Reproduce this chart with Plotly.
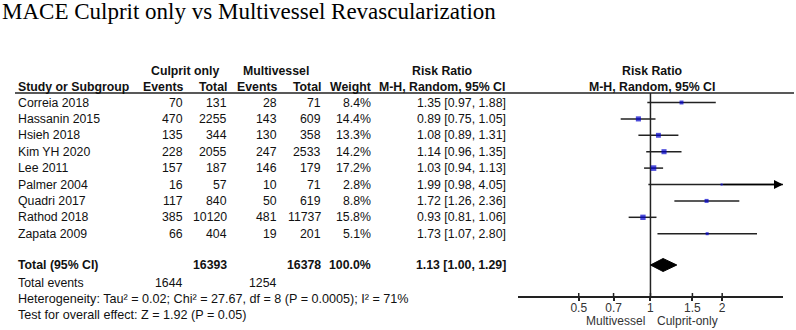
import math
import plotly.graph_objects as go

# ---------------- data ----------------
studies = ["Correia 2018", "Hassanin 2015", "Hsieh 2018", "Kim YH 2020", "Lee 2011",
           "Palmer 2004", "Quadri 2017", "Rathod 2018", "Zapata 2009"]
cul_events = [70, 470, 135, 228, 157, 16, 117, 385, 66]
cul_total = [131, 2255, 344, 2055, 187, 57, 840, 10120, 404]
mv_events = [28, 143, 130, 247, 146, 10, 50, 481, 19]
mv_total = [71, 609, 358, 2533, 179, 71, 619, 11737, 201]
weights = [8.4, 14.4, 13.3, 14.2, 17.2, 2.8, 8.8, 15.8, 5.1]
rr = [1.35, 0.89, 1.08, 1.14, 1.03, 1.99, 1.72, 0.93, 1.73]
rr_lo = [0.97, 0.75, 0.89, 0.96, 0.94, 0.98, 1.26, 0.81, 1.07]
rr_hi = [1.88, 1.05, 1.31, 1.35, 1.13, 4.05, 2.36, 1.06, 2.80]

total_cul = 16393
total_mv = 16378
total_weight = "100.0%"
events_cul = 1644
events_mv = 1254
pooled = [1.13, 1.00, 1.29]  # estimate, lower, upper

heterogeneity = "Heterogeneity: Tau² = 0.02; Chi² = 27.67, df = 8 (P = 0.0005); I² = 71%"
overall = "Test for overall effect: Z = 1.92 (P = 0.05)"
title = "MACE Culprit only vs Multivessel Revascularization"

tick_vals = [0.5, 0.7, 1, 1.5, 2]
tick_text = ["0.5", "0.7", "1", "1.5", "2"]
x_min, x_max = 0.278, 3.6
favours = ["Multivessel", "Culprit-only"]

# ---------------- layout helpers ----------------
W, H = 796, 330
FONT = "Liberation Sans, Arial, sans-serif"
FS = 12.3
TXT = "#111111"
LINE = "#222222"

row0, step = 102.5, 16.4
row_y = [row0 + i * step for i in range(len(studies))]
y_total = 265
y_events = 283
y_het = 299
y_test = 315
y_h1, y_h2 = 71, 87
y_rule = 93
y_axis = 297

def px(x):
    return x / W

annotations = []

def txt(x, y, s, anchor="left", bold=False, size=FS, family=FONT, color=TXT):
    if bold:
        s = "<b>" + s + "</b>"
    annotations.append(dict(x=px(x), y=y, xref="paper", yref="y", text=s,
                            showarrow=False, xanchor=anchor, yanchor="middle",
                            font=dict(family=family, size=size, color=color)))

# column right edges
c_name = 16
c_ev1, c_tot1, c_ev2, c_tot2, c_w, c_rr = 185, 229, 279, 323, 373, 508

# title
annotations.append(dict(x=0, y=11, xref="paper", yref="y", text=title, showarrow=False,
                        xanchor="left", yanchor="middle",
                        font=dict(family="Liberation Serif, Times New Roman, serif", size=23, color="#000")))

# headers
txt(185, y_h1, "Culprit only", "center", True)
txt(276, y_h1, "Multivessel", "center", True)
txt(442, y_h1, "Risk Ratio", "center", True)
txt(652, y_h1, "Risk Ratio", "center", True)
txt(c_name, y_h2, "Study or Subgroup", "left", True)
txt(c_ev1, y_h2, "Events", "right", True)
txt(c_tot1, y_h2, "Total", "right", True)
txt(c_ev2, y_h2, "Events", "right", True)
txt(c_tot2, y_h2, "Total", "right", True)
txt(c_w, y_h2, "Weight", "right", True)
txt(442, y_h2, "M-H, Random, 95% CI", "center", True)
txt(652, y_h2, "M-H, Random, 95% CI", "center", True)

for i, s in enumerate(studies):
    y = row_y[i]
    txt(c_name, y, s)
    txt(c_ev1, y, str(cul_events[i]), "right")
    txt(c_tot1, y, str(cul_total[i]), "right")
    txt(c_ev2, y, str(mv_events[i]), "right")
    txt(c_tot2, y, str(mv_total[i]), "right")
    txt(c_w, y, f"{weights[i]:.1f}%", "right")
    txt(c_rr, y, f"{rr[i]:.2f} [{rr_lo[i]:.2f}, {rr_hi[i]:.2f}]", "right")

txt(c_name, y_total, "Total (95% CI)", "left", True)
txt(c_tot1, y_total, str(total_cul), "right", True)
txt(c_tot2, y_total, str(total_mv), "right", True)
txt(c_w, y_total, total_weight, "right", True)
txt(c_rr, y_total, f"{pooled[0]:.2f} [{pooled[1]:.2f}, {pooled[2]:.2f}]", "right", True)
txt(c_name, y_events, "Total events")
txt(c_ev1, y_events, str(events_cul), "right")
txt(c_ev2, y_events, str(events_mv), "right")
txt(c_name, y_het, heterogeneity, size=12.6)
txt(c_name, y_test, overall, size=12.6)

# favours labels
txt(615, 321, favours[0], "center", size=12, color="#333333")
txt(687, 321, favours[1], "center", size=12, color="#333333")

fig = go.Figure()

# header rule
fig.add_shape(type="line", xref="paper", yref="y", x0=px(15), x1=px(794), y0=y_rule, y1=y_rule,
              line=dict(color=LINE, width=1.5))

# vertical line of no effect
fig.add_trace(go.Scatter(x=[1, 1], y=[y_rule, y_axis], mode="lines",
                         line=dict(color=LINE, width=1.5), hoverinfo="skip", showlegend=False))

# CI lines
cx, cy = [], []
for i in range(len(studies)):
    cx += [rr_lo[i], rr_hi[i], None]
    cy += [row_y[i], row_y[i], None]
fig.add_trace(go.Scatter(x=cx, y=cy, mode="lines", line=dict(color=LINE, width=1.5),
                         hoverinfo="skip", showlegend=False))

# squares
fig.add_trace(go.Scatter(x=rr, y=row_y, mode="markers",
                         marker=dict(symbol="square", color="#0000cc",
                                     size=[1.35 * math.sqrt(w) for w in weights],
                                     line=dict(width=0)),
                         hoverinfo="skip", showlegend=False))

# arrows for CIs beyond the axis
for i in range(len(studies)):
    if rr_hi[i] > x_max:
        annotations.append(dict(x=math.log10(x_max), y=row_y[i], ax=math.log10(rr[i]), ay=row_y[i],
                                xref="x", yref="y", axref="x", ayref="y", text="",
                                showarrow=True, arrowhead=2, arrowsize=1.2, arrowwidth=1.5,
                                arrowcolor="#000"))

# pooled diamond
dh = 6.5
fig.add_trace(go.Scatter(x=[pooled[1], pooled[0], pooled[2], pooled[0], pooled[1]],
                         y=[y_total, y_total - dh, y_total, y_total + dh, y_total],
                         mode="lines", fill="toself", fillcolor="#000",
                         line=dict(color="#000", width=1), hoverinfo="skip", showlegend=False))

# upper halves of crossing ticks
tx, ty = [], []
for t in tick_vals:
    tx += [t, t, None]
    ty += [y_axis - 4, y_axis, None]
fig.add_trace(go.Scatter(x=tx, y=ty, mode="lines", line=dict(color=LINE, width=1.5),
                         hoverinfo="skip", showlegend=False))

fig.update_layout(
    width=W, height=H,
    margin=dict(l=0, r=0, t=0, b=0),
    paper_bgcolor="white", plot_bgcolor="rgba(0,0,0,0)",
    showlegend=False,
    annotations=annotations,
    xaxis=dict(type="log", range=[math.log10(x_min), math.log10(x_max)],
               domain=[518 / W, 783 / W], anchor="free", position=1 - y_axis / H,
               showline=True, linecolor=LINE, linewidth=1.5,
               ticks="outside", ticklen=3, tickwidth=1.5, tickcolor=LINE,
               ticklabelstandoff=-3,
               tickvals=tick_vals, ticktext=tick_text,
               tickfont=dict(family=FONT, size=12, color="#333333"),
               showgrid=False, zeroline=False, fixedrange=True),
    yaxis=dict(range=[H, 0], domain=[0, 1], visible=False, showgrid=False, zeroline=False,
               fixedrange=True),
)

fig.write_html("out.html")
